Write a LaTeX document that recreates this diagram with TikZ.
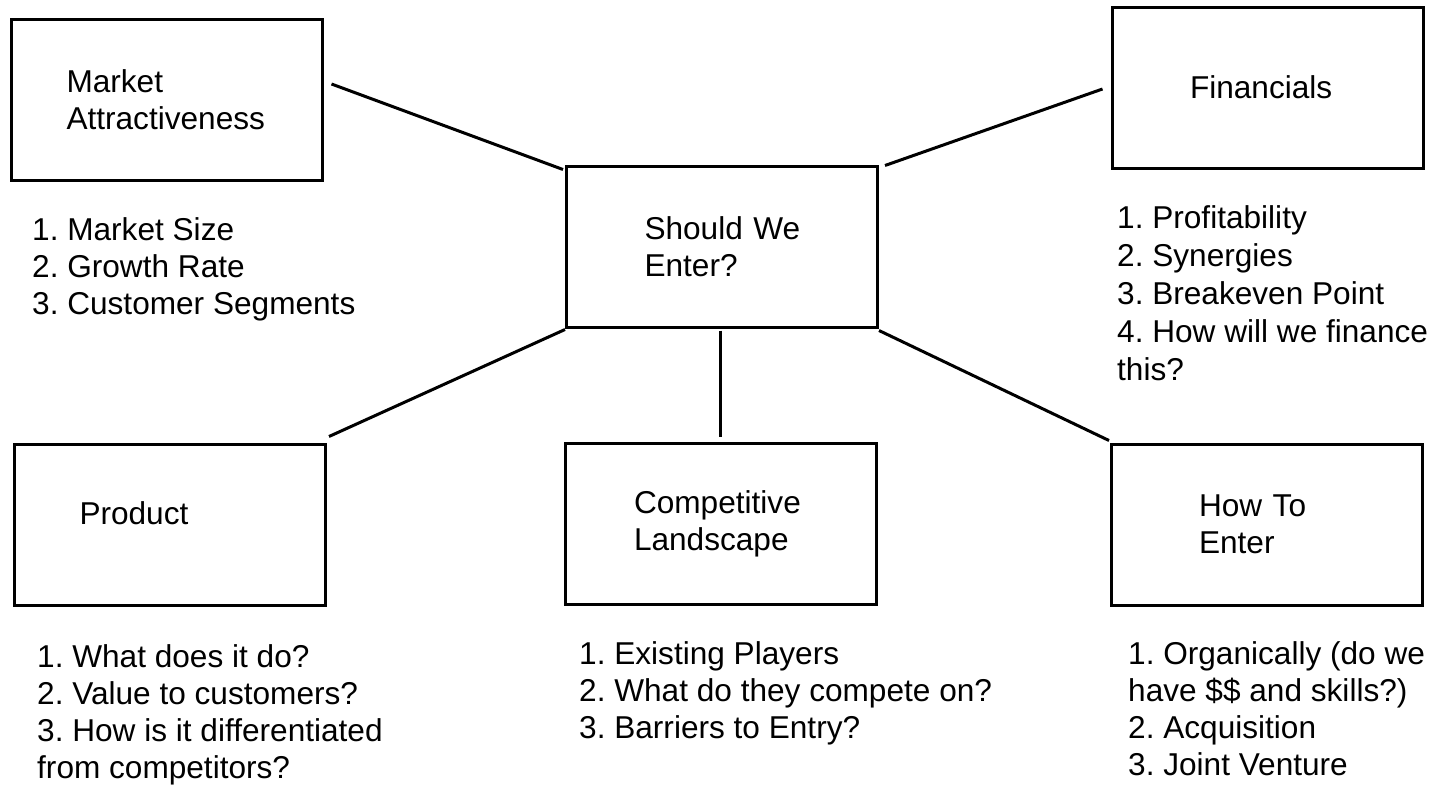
\documentclass[tikz,border=0pt]{standalone}
\usepackage{fontspec}
\setmainfont{Liberation Sans}
\frenchspacing
\tikzset{every node/.style = {font=\fontsize{31.6}{37}\selectfont}}
\tikzset{box/.style = {draw, line width=3pt, minimum width=311pt, minimum height=161pt,
                       inner sep=0pt, align=left, text width=#1},
         box/.default = 180pt}
\tikzset{list/.style = {anchor=base west, inner sep=0pt, align=left}}
\tikzset{link/.style = {line width=3pt}}

\begin{document}
\begin{tikzpicture}[x=1pt, y=-1pt]
      \useasboundingbox (0, 0) rectangle (1441, 785);
      \node [box=200pt] (ma) at (166.5, 99.5) {Market\\Attractiveness};
      \node [box=155pt] (fin) at (1267.5, 87.5) {Financials};
      \node [box=155pt] (enter) at (722, 246.5) {Should~We\\Enter?};
      \node [box=181pt, text depth=23pt] (prod) at (170, 524.5) {Product};
      \node [box=173pt] (comp) at (720.5, 523.5) {Competitive\\Landscape};
      \node [box=136pt] (hte) at (1267, 524.5) {How~To\\Enter};
      % lists under the boxes (placed by the baseline of their last line)
      \node [list] (malist) at (32, 314) {1. Market Size\\2. Growth Rate\\3. Customer Segments};
      \node [list, font=\fontsize{31.6}{38}\selectfont] (finlist) at (1117, 380)
            {1. Profitability\\2. Synergies\\3. Breakeven Point\\4. How will we finance\\this?};
      \node [list] (prodlist) at (37, 778)
            {1. What does it do?\\2. Value to customers?\\3. How is it differentiated\\from competitors?};
      \node [list] (complist) at (579, 738)
            {1. Existing Players\\2. What do they compete on?\\3. Barriers to Entry?};
      \node [list] (htelist) at (1128, 775)
            {1. Organically (do we\\have \$\$ and skills?)\\2. Acquisition\\3. Joint Venture};
      % connectors
      \draw [link] ([xshift=8pt, yshift=15.5pt]ma.east) -- ([xshift=-2pt, yshift=-5pt]enter.north west);
      \draw [link] ([xshift=6pt, yshift=-1pt]enter.north east) -- ([xshift=-8pt, yshift=-1.5pt]fin.west);
      \draw [link] ([yshift=-1pt]enter.south west) -- ([xshift=2pt, yshift=6pt]prod.north east);
      \draw [link] ([yshift=-2pt]comp.north |- enter.south) -- ([yshift=5pt]comp.north);
      \draw [link] ([yshift=-2pt]enter.south east) -- ([xshift=-1pt, yshift=2pt]hte.north west);
    \end{tikzpicture}
\end{document}
